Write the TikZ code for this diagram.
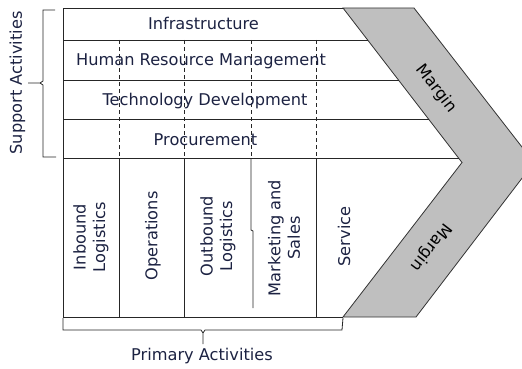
\documentclass[tikz,border=0pt]{standalone}
\usepackage{fontspec}
\setmainfont{DejaVu Sans}
\definecolor{txt}{RGB}{28,34,66}
\begin{document}
\begin{tikzpicture}[x=1pt,y=-1pt,
  ln/.style={draw=black!85, line width=0.8pt},
  dsh/.style={draw=black!85, line width=0.8pt, dash pattern=on 4pt off 3pt},
  lbl/.style={inner sep=0pt, text=txt, font=\fontsize{16.2}{19.5}\selectfont, align=center},
  band/.style={fill=black!25, draw=black!80, line width=0.8pt}]
\useasboundingbox (0,0) rectangle (522,369);
\clip (0,0) rectangle (522,369);
% margin band
\draw[band] (343,8) -- (414,8) -- (534,162.5) -- (416,317) -- (343,317) -- (462,162.5) -- cycle;
% main frame
\coordinate (tl) at (63,8);
\coordinate (bl) at (63,317);
\draw[ln] (343,8) -- (tl) -- (bl) -- (343,317);
\draw[ln] (63,40) -- (367.7,40);
\draw[ln] (63,80) -- (398.5,80);
\draw[ln] (63,119) -- (428.5,119);
\draw[ln] (63,158) -- (459,158);
% dashed support dividers
\foreach \x in {119,184,251,316} \draw[dsh] (\x,40) -- (\x,158);
% primary dividers
\draw[ln] (119,158) -- (119,317);
\draw[ln] (184,158) -- (184,317);
\draw[ln] (251,158) -- (251,230) -- (253,231) -- (253,308);
\draw[ln] (316,158) -- (316,317);
% support labels
\node[lbl] (infra) at (203.5,23) {Infrastructure};
\node[lbl] (hrm) at (201,61) {Human Resource Management};
\node[lbl] (tech) at (205,101) {Technology Development};
\node[lbl] (proc) at (205.5,139.5) {Procurement};
% primary labels
\node[lbl, rotate=90] (inb) at (91,237) {Inbound\\Logistics};
\node[lbl, rotate=90] (ops) at (153,236) {Operations};
\node[lbl, rotate=90] (outb) at (218,236) {Outbound\\Logistics};
\node[lbl, rotate=90] (mkt) at (284,238) {Marketing and\\Sales};
\node[lbl, rotate=90] (serv) at (344,236.5) {Service};
% margin labels
\node[lbl, text=black, rotate=-52.4] (m1) at (436,89) {Margin};
\node[lbl, text=black, rotate=-127.6] (m2) at (431,247) {Margin};
% braces
\coordinate (sb) at (28,83);
\draw[ln] (55,10) -- (43,10) -- (43,81) -- (40,83) -- (sb);
\draw[ln] (40,83) -- (43,85) -- (43,157) -- (56,157);
\coordinate (pb) at (203,344);
\draw[ln] (63,318) -- (63,330) -- (201,330) -- (203,333) -- (pb);
\draw[ln] (203,333) -- (205,330) -- (342,330) -- (343,318);
\node[lbl, rotate=90] (sup) at (17.5,83) {Support Activities};
\node[lbl] (pri) at (202,356) {Primary Activities};
\end{tikzpicture}
\end{document}
